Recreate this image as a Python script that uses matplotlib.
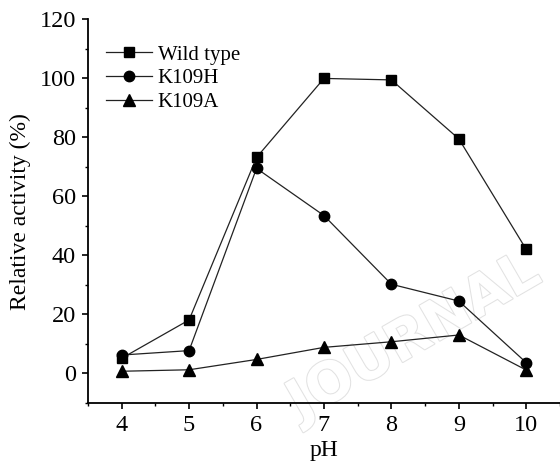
import matplotlib.pyplot as plt
import matplotlib.patheffects as pe
from matplotlib.ticker import MultipleLocator

ph = [4, 5, 6, 7, 8, 9, 10]
wild_type = [5.1, 18.1, 73.2, 100.0, 99.5, 79.5, 42.0]
k109h = [6.2, 7.7, 69.5, 53.5, 30.2, 24.5, 3.6]
k109a = [0.7, 1.2, 4.7, 8.8, 10.7, 13.0, 1.1]

series = [
    ("Wild type", wild_type, "s", 6.5),
    ("K109H", k109h, "o", 7.5),
    ("K109A", k109a, "^", 8),
]

plt.rcParams["font.family"] = ["Liberation Serif", "DejaVu Serif"]

fig = plt.figure(figsize=(5.6, 4.63), dpi=100)
ax = fig.add_axes([0.157, 0.130, 0.843, 0.828])
ax.patch.set_visible(False)

for name, values, marker, ms in series:
    ax.plot(ph, values, color="#222222", lw=0.9, marker=marker,
            markersize=ms, markerfacecolor="black",
            markeredgecolor="black", label=name)

ax.set_xlim(3.5, 10.5)
ax.set_ylim(-10, 120)
ax.set_xticks(ph)
ax.set_yticks(range(0, 121, 20))
ax.xaxis.set_minor_locator(MultipleLocator(0.5))
ax.yaxis.set_minor_locator(MultipleLocator(10))

for side in ["top", "right"]:
    ax.spines[side].set_visible(False)
for side in ["left", "bottom"]:
    ax.spines[side].set_linewidth(1.3)

ax.tick_params(which="major", direction="out", length=4.5, width=1.2,
               labelsize=17.5, pad=4)
ax.tick_params(which="minor", direction="out", length=2.5, width=1.0)

ax.set_xlabel("pH", fontsize=17, labelpad=3)
ax.set_ylabel("Relative activity (%)", fontsize=17, labelpad=6)

ax.legend(loc="upper left", bbox_to_anchor=(0.02, 0.955), frameon=False,
          fontsize=15, handlelength=2.2, handletextpad=0.3,
          labelspacing=0.2, borderaxespad=0)

# faint journal watermark behind the data
wm = fig.text(0.74, 0.27, "JOURNAL", fontsize=40, rotation=30,
              color="white", ha="center", va="center",
              family="DejaVu Sans", weight="bold", zorder=-1)
wm.set_path_effects([pe.withStroke(linewidth=1.5, foreground="#e2e2e2")])

fig.savefig("out.png", dpi=100)
